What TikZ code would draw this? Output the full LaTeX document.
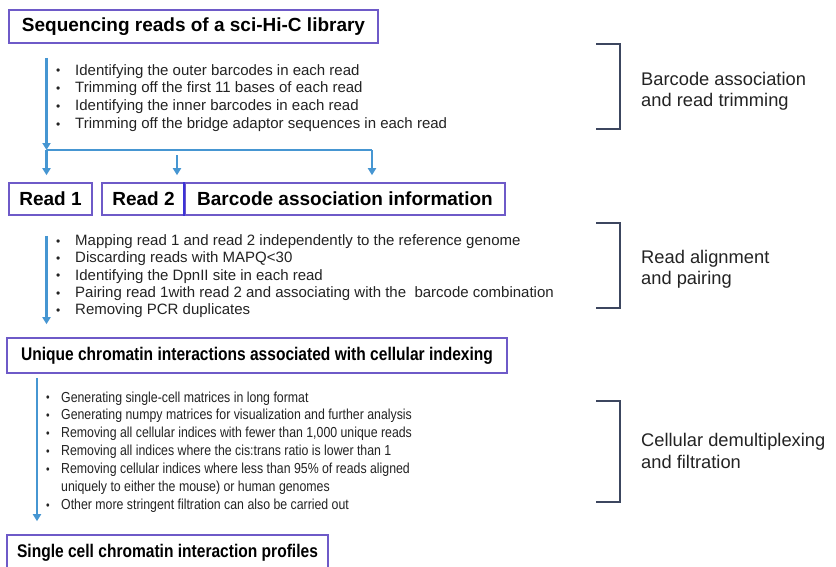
\documentclass[tikz,border=0pt]{standalone}
\usepackage{fontspec}
\setmainfont{Liberation Sans}
\newfontfamily\condfont[FakeStretch=0.85]{Liberation Sans}
\usetikzlibrary{arrows.meta}
\definecolor{boxcol}{RGB}{110,90,200}
\definecolor{divcol}{RGB}{60,50,215}
\definecolor{arrcol}{RGB}{70,150,210}
\definecolor{brkcol}{RGB}{60,70,95}
\definecolor{txtcol}{RGB}{35,35,35}
\newcommand{\bulw}[1]{\makebox[#1][l]{\raisebox{0.3pt}{\fontsize{12}{12}\selectfont\textbullet}}}
\begin{document}
\begin{tikzpicture}[x=1pt,y=-1pt,
  titlebox/.style={draw=boxcol, line width=1.6pt, font=\fontsize{19}{22}\selectfont\bfseries, text=black, inner sep=0pt, minimum height=33pt},
  condbox/.style={titlebox, font=\condfont\fontsize{18.3}{22}\selectfont\bfseries, minimum height=35pt},
  listtext/.style={anchor=base west, inner sep=0pt, text=txtcol, font=\fontsize{15}{17.9}\selectfont},
  lbl/.style={anchor=base west, inner sep=0pt, text=txtcol, font=\fontsize{18.3}{21.5}\selectfont},
  flow/.style={draw=arrcol, line width=2.2pt, -{Triangle[width=8pt,length=7pt]}},
  flowline/.style={draw=arrcol, line width=2.2pt},
  brk/.style={draw=brkcol, line width=2.2pt}]
\useasboundingbox[fill=white] (0,0) rectangle (836,566);

% boxes
\node[titlebox, minimum width=369pt] (seq) at (193.5,26.5) {Sequencing reads of a sci-Hi-C library};
\node[titlebox, minimum width=83pt, minimum height=32pt] (r1) at (50.5,199) {Read 1};
\node[titlebox, minimum width=83pt, minimum height=32pt] (r2) at (143.5,199) {Read 2};
\node[titlebox, minimum width=320pt, minimum height=32pt] (bc) at (345,199) {Barcode association information};
\draw[draw=divcol, line width=1.6pt] (bc.north west) -- (bc.south west);
\node[condbox, minimum width=500pt] (uni) at (257,355.5) {Unique chromatin interactions associated with cellular indexing};
\node[condbox, minimum width=321pt] (prof) at (167.5,552.5) {Single cell chromatin interaction profiles};

% lists
\node[listtext] (list1) at (56,75) {\begin{tabular}[t]{@{}l@{}}
\bulw{19pt}Identifying the outer barcodes in each read\\
\bulw{19pt}Trimming off the first 11 bases of each read\\
\bulw{19pt}Identifying the inner barcodes in each read\\
\bulw{19pt}Trimming off the bridge adaptor sequences in each read
\end{tabular}};
\node[listtext, font=\fontsize{15}{17.3}\selectfont] (list2) at (56,245.5) {\begin{tabular}[t]{@{}l@{}}
\bulw{19pt}Mapping read 1 and read 2 independently to the reference genome\\
\bulw{19pt}Discarding reads with MAPQ<30\\
\bulw{19pt}Identifying the DpnII site in each read\\
\bulw{19pt}Pairing read 1with read 2 and associating with the\ \ barcode combination\\
\bulw{19pt}Removing PCR duplicates
\end{tabular}};
\node[listtext, font=\condfont\fontsize{14.5}{17.9}\selectfont] (list3) at (46,402) {\begin{tabular}[t]{@{}l@{}}
\bulw{15pt}Generating single-cell matrices in long format\\
\bulw{15pt}Generating numpy matrices for visualization and further analysis\\
\bulw{15pt}Removing all cellular indices with fewer than 1,000 unique reads\\
\bulw{15pt}Removing all indices where the cis:trans ratio is lower than 1\\
\bulw{15pt}Removing cellular indices where less than 95\% of reads aligned\\
\hspace*{15pt}uniquely to either the mouse) or human genomes\\
\bulw{15pt}Other more stringent filtration can also be carried out
\end{tabular}};

% side labels
\node[lbl] (lab1) at (641,85) {\begin{tabular}[t]{@{}l@{}}Barcode association\\and read trimming\end{tabular}};
\node[lbl] (lab2) at (641,263) {\begin{tabular}[t]{@{}l@{}}Read alignment\\and pairing\end{tabular}};
\node[lbl] (lab3) at (641,446.5) {\begin{tabular}[t]{@{}l@{}}Cellular demultiplexing\\and filtration\end{tabular}};

% brackets
\draw[brk] (596,44) -- (620,44) -- (620,129) -- (596,129);
\draw[brk] (596,223) -- (620,223) -- (620,308) -- (596,308);
\draw[brk] (596,401) -- (620,401) -- (620,502) -- (596,502);

% connectors
\coordinate (j) at (46.5,150);
\coordinate (jr) at (372,150);
\coordinate (m2) at (177,155);
\coordinate (k) at (37,377);
\draw[flow, shorten <=14pt] (seq.south -| j) -- (j);
\draw[flowline] (j) -- (jr);
\draw[flow, shorten >=7pt] (j) -- (j |- r1.north);
\draw[flow, shorten >=7pt] (m2) -- (m2 |- r2.north);
\draw[flow, shorten >=7pt] (jr) -- (jr |- bc.north);
\draw[flow, shorten <=20pt, shorten >=13pt] (r1.south -| j) -- (j |- uni.north);
\draw[flow, shorten <=4pt, shorten >=13pt] (uni.south -| k) -- (k |- prof.north);
\end{tikzpicture}
\end{document}
